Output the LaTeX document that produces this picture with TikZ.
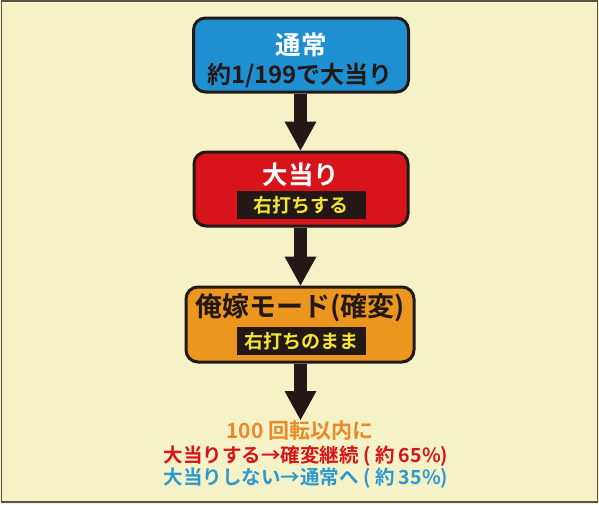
\documentclass[tikz,border=0pt]{standalone}
\usepackage{fontspec}
\usetikzlibrary{arrows.meta}
\newfontfamily\jpb{Noto Sans CJK JP Bold}
\definecolor{bgc}{HTML}{F6F2C8}
\definecolor{framec}{HTML}{55554A}
\definecolor{ink}{HTML}{231815}
\definecolor{bluec}{HTML}{1E90D2}
\definecolor{redc}{HTML}{D7141A}
\definecolor{orangec}{HTML}{EA961F}
\definecolor{yelc}{HTML}{F2E632}
\definecolor{torange}{HTML}{E8892A}
\definecolor{tred}{HTML}{D7141A}
\definecolor{tblue}{HTML}{2C9AD0}
\tikzset{
  box/.style={draw=ink, line width=3pt, rounded corners=12pt, inner sep=0pt},
  band/.style={fill=ink, minimum width=129pt, minimum height=28pt, inner sep=0pt, text=yelc, font=\jpb\fontsize{19}{19}\selectfont},
  title/.style={inner sep=0pt, font=\jpb\fontsize{25.5}{25.5}\selectfont},
  sub/.style={inner sep=0pt, font=\jpb\fontsize{24}{24}\selectfont},
  note/.style={inner sep=0pt, font=\jpb\fontsize{19.5}{19.5}\selectfont},
  flow/.style={draw=ink, line width=13pt, -{Triangle[width=32pt,length=29pt,line width=0pt]}}
}
\begin{document}
\begin{tikzpicture}[x=1pt,y=-1pt]
\useasboundingbox (0,0) rectangle (599,504);
\fill[bgc] (0,0) rectangle (599,504);
\draw[framec, line width=1.5pt] (1.5,1) rectangle (597.5,502);
% boxes
\node[box, fill=bluec, minimum width=215pt, minimum height=74pt] (b1) at (301,55) {};
\node[box, fill=redc, minimum width=214pt, minimum height=74pt] (b2) at (301,189) {};
\node[box, fill=orangec, minimum width=228pt, minimum height=75pt] (b3) at (300,324.5) {};
% texts
\node[title, text=white] (t1) at (301,45) {通常};
\node[sub, text=ink] (s1) at (300,75) {約1/199で大当り};
\node[title, text=white] (t2) at (301,175) {大当り};
\node[band] (k2) at (301,205) {右打ちする};
\node[title, text=ink, font=\jpb\fontsize{27}{27}\selectfont] (t3) at (300,308) {俺嫁モード(確変)};
\node[band] (k3) at (301,341) {右打ちのまま};
\node[note, text=torange, font=\jpb\fontsize{21}{21}\selectfont] (n1) at (300,431) {100 回転以内に};
\node[note, text=tred] (n2) at (306,456) {大当りする→確変継続 ( 約 65\%)};
\node[note, text=tblue] (n3) at (306,478) {大当りしない→通常へ ( 約 35\%)};
\coordinate (e3) at (300.5,420);
% arrows
\draw[flow] (b1.south -| 300.5,0) -- (b2.north -| 300.5,0);
\draw[flow] (b2.south -| 300.5,0) -- (b3.north -| 300.5,0);
\draw[flow] (b3.south -| 300.5,0) -- (e3);
\end{tikzpicture}
\end{document}
